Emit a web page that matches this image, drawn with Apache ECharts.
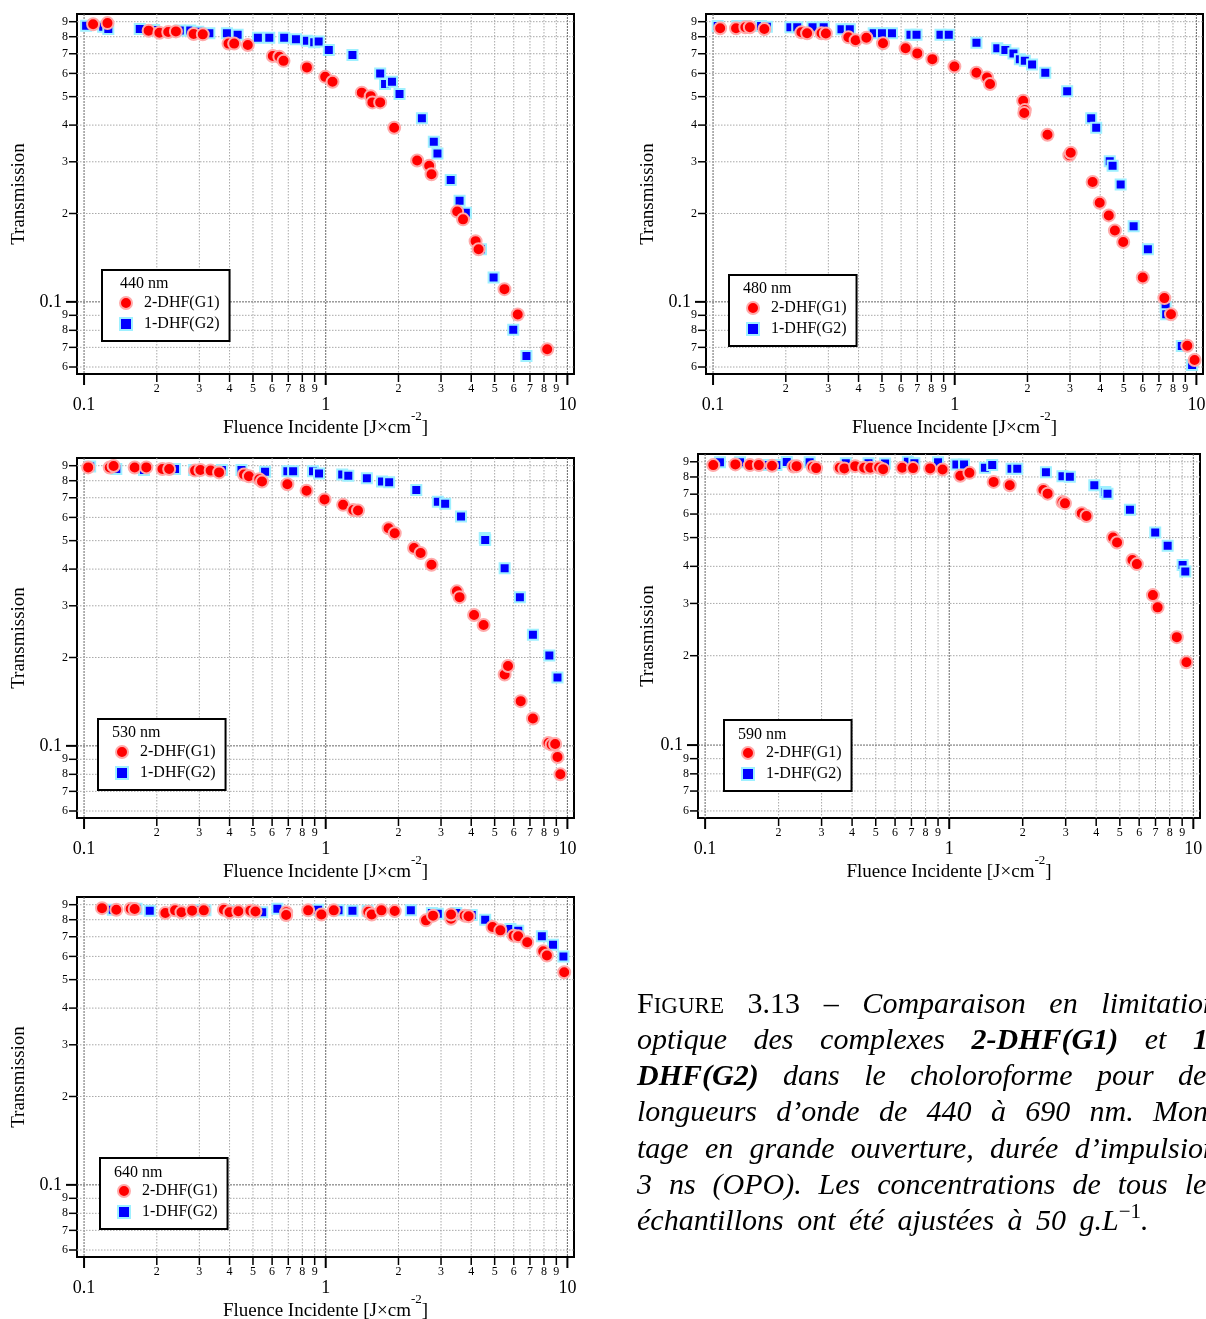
<!DOCTYPE html>
<html>
<head>
<meta charset="utf-8">
<script src="https://cdn.jsdelivr.net/npm/echarts@6.0.0/dist/echarts.min.js"></script>
<style>html,body{margin:0;padding:0;background:#fff;}#chart{width:1206px;height:1319px;}</style>
</head>
<body>
<div id="chart"></div>
<script>
// ---------------- DATA ----------------
const SERIES_NAMES = ['2-DHF(G1)', '1-DHF(G2)'];
const WAVELENGTHS = ['440 nm', '480 nm', '530 nm', '590 nm', '640 nm'];

const g1_440_x = [0.109,0.125,0.185,0.205,0.223,0.240,0.284,0.31,0.396,0.418,0.476,0.604,0.643,0.669,0.836,0.995,1.067,1.41,1.535,1.56,1.68,1.92,2.39,2.68,2.74,3.5,3.7,4.17,4.29,5.49,6.23,8.25];
const g1_440_y = [0.882,0.89,0.839,0.825,0.83,0.834,0.817,0.815,0.758,0.758,0.75,0.688,0.684,0.662,0.629,0.584,0.562,0.516,0.502,0.478,0.478,0.392,0.303,0.291,0.272,0.203,0.191,0.161,0.151,0.1105,0.0906,0.069];
const g2_440_x = [0.102,0.120,0.126,0.170,0.195,0.249,0.275,0.297,0.33,0.39,0.432,0.524,0.584,0.673,0.753,0.836,0.896,0.935,1.03,1.29,1.68,1.76,1.88,2.02,2.5,2.8,2.9,3.29,3.58,3.8,4.39,4.95,5.97,6.77];
const g2_440_y = [0.872,0.865,0.85,0.85,0.843,0.84,0.84,0.832,0.822,0.822,0.812,0.794,0.794,0.794,0.785,0.775,0.766,0.77,0.721,0.693,0.6,0.552,0.562,0.51,0.422,0.351,0.32,0.26,0.221,0.201,0.151,0.121,0.0804,0.0654];

const g1_480_x = [0.107,0.1245,0.136,0.142,0.163,0.232,0.245,0.281,0.293,0.363,0.389,0.431,0.505,0.626,0.70,0.808,0.997,1.23,1.36,1.40,1.92,1.95,1.94,2.42,2.98,3.02,3.72,3.98,4.34,4.6,4.98,6.0,7.37,7.85,9.17,9.83];
const g1_480_y = [0.855,0.855,0.862,0.862,0.85,0.829,0.822,0.822,0.82,0.797,0.778,0.794,0.76,0.731,0.702,0.671,0.633,0.603,0.581,0.552,0.484,0.45,0.44,0.371,0.316,0.322,0.256,0.2175,0.197,0.175,0.16,0.121,0.103,0.0908,0.0709,0.0634];
const g2_480_x = [0.1045,0.126,0.136,0.158,0.167,0.209,0.223,0.258,0.287,0.34,0.368,0.462,0.5,0.55,0.656,0.695,0.873,0.945,1.23,1.5,1.62,1.75,1.86,1.95,2.09,2.37,2.92,3.67,3.85,4.38,4.5,4.86,5.5,6.3,7.46,7.5,8.7,9.6];
const g2_480_y = [0.87,0.87,0.87,0.87,0.865,0.862,0.862,0.862,0.862,0.848,0.848,0.822,0.822,0.822,0.812,0.812,0.812,0.812,0.763,0.731,0.721,0.702,0.67,0.663,0.643,0.603,0.522,0.422,0.392,0.301,0.291,0.251,0.181,0.151,0.096,0.0908,0.0707,0.0609];

const g1_530_x = [0.104,0.1277,0.1325,0.162,0.181,0.211,0.225,0.288,0.303,0.334,0.362,0.459,0.481,0.531,0.545,0.694,0.833,0.989,1.18,1.30,1.36,1.82,1.93,2.32,2.47,2.74,3.49,3.58,4.11,4.5,5.5,5.68,6.41,7.2,8.35,8.6,8.9,9.1,9.35];
const g1_530_y = [0.888,0.887,0.898,0.887,0.888,0.877,0.877,0.866,0.87,0.866,0.854,0.84,0.829,0.809,0.795,0.778,0.74,0.691,0.662,0.636,0.633,0.551,0.53,0.472,0.454,0.414,0.336,0.321,0.279,0.258,0.175,0.187,0.142,0.124,0.1023,0.101,0.1015,0.0916,0.080];
const g2_530_x = [0.106,0.136,0.177,0.238,0.285,0.372,0.448,0.561,0.694,0.733,0.886,0.938,1.17,1.24,1.48,1.71,1.83,2.37,2.91,3.12,3.63,4.55,4.57,5.5,6.36,7.2,8.42,9.1];
const g2_530_y = [0.895,0.877,0.87,0.877,0.87,0.87,0.87,0.858,0.862,0.862,0.862,0.846,0.84,0.831,0.815,0.795,0.79,0.744,0.679,0.668,0.604,0.51,0.503,0.403,0.321,0.239,0.203,0.171];

const g1_590_x = [0.108,0.133,0.1525,0.166,0.188,0.23,0.237,0.276,0.285,0.356,0.372,0.412,0.448,0.475,0.516,0.536,0.642,0.711,0.835,0.939,1.11,1.21,1.52,1.77,2.43,2.53,2.91,2.98,3.49,3.65,4.69,4.87,5.63,5.87,6.83,7.14,8.56,9.37];
const g1_590_y = [0.877,0.882,0.877,0.877,0.873,0.868,0.87,0.864,0.857,0.859,0.855,0.87,0.859,0.859,0.861,0.85,0.859,0.857,0.855,0.848,0.808,0.826,0.77,0.75,0.723,0.703,0.659,0.652,0.604,0.591,0.5,0.481,0.42,0.407,0.32,0.291,0.231,0.19];
const g2_590_x = [0.115,0.139,0.182,0.196,0.216,0.268,0.377,0.467,0.546,0.677,0.72,0.90,1.07,1.15,1.40,1.5,1.8,1.9,2.49,2.91,3.12,3.93,4.36,4.45,5.5,6.98,7.85,9.04,9.27];
const g2_590_y = [0.897,0.897,0.877,0.877,0.898,0.897,0.89,0.89,0.888,0.9,0.89,0.897,0.882,0.882,0.859,0.877,0.852,0.852,0.83,0.805,0.802,0.75,0.712,0.703,0.62,0.52,0.469,0.404,0.384];

const g1_640_x = [0.1187,0.136,0.156,0.162,0.217,0.238,0.253,0.28,0.313,0.379,0.4,0.435,0.488,0.512,0.686,0.686,0.846,0.96,1.08,1.5,1.55,1.7,1.93,2.6,2.78,3.3,3.3,3.76,3.9,4.9,5.28,5.99,6.26,6.82,7.94,8.23,9.7];
const g1_640_y = [0.876,0.865,0.872,0.87,0.843,0.861,0.848,0.859,0.861,0.865,0.848,0.855,0.859,0.853,0.848,0.83,0.861,0.833,0.861,0.851,0.833,0.861,0.856,0.796,0.826,0.806,0.833,0.826,0.822,0.756,0.736,0.706,0.703,0.67,0.625,0.604,0.53];
const g2_640_x = [0.1315,0.165,0.187,0.296,0.318,0.416,0.546,0.631,0.93,1.13,1.29,1.49,2.25,2.75,2.91,3.47,4.02,4.57,5.81,6.26,7.84,8.72,9.63];
const g2_640_y = [0.865,0.872,0.859,0.861,0.861,0.855,0.848,0.872,0.865,0.861,0.859,0.859,0.861,0.843,0.839,0.843,0.83,0.80,0.744,0.734,0.703,0.658,0.60];

// Axis ranges and ticks
const X_MIN = 0.0935, X_MAX = 10.65;
const Y_MIN = 0.0568, Y_MAX = 0.956;
const X_TICKS = [0.1,0.2,0.3,0.4,0.5,0.6,0.7,0.8,0.9,1,2,3,4,5,6,7,8,9,10];
const X_TICK_LABELS = ['0.1','2','3','4','5','6','7','8','9','1','2','3','4','5','6','7','8','9','10'];
const X_TICK_MAJOR = [1,0,0,0,0,0,0,0,0,1,0,0,0,0,0,0,0,0,1];
const Y_TICKS = [0.06,0.07,0.08,0.09,0.1,0.2,0.3,0.4,0.5,0.6,0.7,0.8,0.9];
const Y_TICK_LABELS = ['6','7','8','9','0.1','2','3','4','5','6','7','8','9'];
const Y_TICK_MAJOR = [0,0,0,0,1,0,0,0,0,0,0,0,0];

const X_NAME = 'Fluence Incidente [J×cm';
const X_NAME_SUP = '-2';
const Y_NAME = 'Transmission';

// caption (text runs: r roman, sc small caps, i italic, bi bold italic, sup superscript)
const CAPTION_LINES = [
  [[['F','r'],['IGURE','sc']], [['3.13','r']], [['–','r']], [['Comparaison','i']], [['en','i']], [['limitation','i']]],
  [[['optique','i']], [['des','i']], [['complexes','i']], [['2-DHF(G1)','bi']], [['et','i']], [['1-','bi']]],
  [[['DHF(G2)','bi']], [['dans','i']], [['le','i']], [['choloroforme','i']], [['pour','i']], [['des','i']]],
  [[['longueurs','i']], [['d’onde','i']], [['de','i']], [['440','i']], [['à','i']], [['690','i']], [['nm.','i']], [['Mon-','i']]],
  [[['tage','i']], [['en','i']], [['grande','i']], [['ouverture,','i']], [['durée','i']], [['d’impulsion','i']]],
  [[['3','i']], [['ns','i']], [['(OPO).','i']], [['Les','i']], [['concentrations','i']], [['de','i']], [['tous','i']], [['les','i']]],
  [[['échantillons','i']], [['ont','i']], [['été','i']], [['ajustées','i']], [['à','i']], [['50','i']], [['g.L','i'],['−1','sup'],['.','i']]]
];

// ---------------- LAYOUT ----------------
const FONT = '"Liberation Serif", "Times New Roman", serif';
const PLOTS = [
  {grid:{left:77, top:14, width:497, height:360}, yGap:48, legend:[102,270], title:[120,276], g1:[g1_440_x,g1_440_y], g2:[g2_440_x,g2_440_y]},
  {grid:{left:706, top:14, width:497, height:360}, yGap:48, legend:[729,275], title:[743,281], g1:[g1_480_x,g1_480_y], g2:[g2_480_x,g2_480_y]},
  {grid:{left:77, top:458, width:497, height:360}, yGap:48, legend:[98,719], title:[112,725], g1:[g1_530_x,g1_530_y], g2:[g2_530_x,g2_530_y]},
  {grid:{left:698, top:454, width:502, height:364}, yGap:40, legend:[724,720], title:[738,727], g1:[g1_590_x,g1_590_y], g2:[g2_590_x,g2_590_y]},
  {grid:{left:77, top:897, width:497, height:360}, yGap:48, legend:[100,1158], title:[114,1165], g1:[g1_640_x,g1_640_y], g2:[g2_640_x,g2_640_y]}
];

function zip(xs, ys){ return xs.map((x,i)=>[x, ys[i]]); }

function txtStyle(text, font, align, valign){
  return {text:text, font:font, fill:'#000', textAlign:align, textVerticalAlign:valign, align:align, verticalAlign:valign};
}

function renderX(params, api){
  const v = api.value(0), k = api.value(2);
  const bottom = api.coord([v, Y_MIN]);
  const top = api.coord([v, Y_MAX]);
  const major = X_TICK_MAJOR[k] === 1;
  const len = major ? 11 : 8;
  return {type:'group', children:[
    {type:'line', silent:true, shape:{x1:bottom[0], y1:top[1], x2:bottom[0], y2:bottom[1]},
      style:{stroke: major ? '#666' : '#a8a8a8', lineWidth:1, lineDash: major ? [2,1] : [1.5,1.5]}},
    {type:'line', silent:true, shape:{x1:bottom[0], y1:bottom[1], x2:bottom[0], y2:bottom[1]+len},
      style:{stroke:'#000', lineWidth: major ? 2 : 1.5}},
    {type:'text', silent:true, x:bottom[0], y:bottom[1] + (major ? 31 : 15),
      style: txtStyle(X_TICK_LABELS[k], (major ? '18px ' : '12px ') + FONT, 'center', 'middle')}
  ]};
}
function renderY(params, api){
  const v = api.value(1), k = api.value(2);
  const left = api.coord([X_MIN, v]);
  const right = api.coord([X_MAX, v]);
  const major = Y_TICK_MAJOR[k] === 1;
  const len = major ? 11 : 8;
  return {type:'group', children:[
    {type:'line', silent:true, shape:{x1:left[0], y1:left[1], x2:right[0], y2:left[1]},
      style:{stroke: major ? '#666' : '#a8a8a8', lineWidth:1, lineDash: major ? [2,1] : [1.5,1.5]}},
    {type:'line', silent:true, shape:{x1:left[0], y1:left[1], x2:left[0]-len, y2:left[1]},
      style:{stroke:'#000', lineWidth: major ? 2 : 1.5}},
    {type:'text', silent:true, x:left[0] - (major ? 15 : 9), y:left[1],
      style: txtStyle(Y_TICK_LABELS[k], (major ? '18px ' : '12px ') + FONT, 'right', 'middle')}
  ]};
}

const option = {
  animation:false,
  backgroundColor:'#fff',
  grid:[], xAxis:[], yAxis:[], series:[], legend:[], title:[], graphic:[]
};

PLOTS.forEach((p, i) => {
  option.grid.push(Object.assign({show:true, borderColor:'#000', borderWidth:2, backgroundColor:'transparent', containLabel:false, outerBoundsMode:'none'}, p.grid));
  option.xAxis.push({
    type:'log', logBase:10, gridIndex:i, min:X_MIN, max:X_MAX,
    axisLine:{show:false}, axisTick:{show:false}, axisLabel:{show:false}, splitLine:{show:false},
    name:'{n|' + X_NAME + '}{s|' + X_NAME_SUP + '}{n|]}', nameLocation:'middle', nameGap:36,
    nameTextStyle:{fontFamily:FONT, fontSize:19, color:'#000',
      rich:{n:{fontFamily:FONT, fontSize:19, lineHeight:19, verticalAlign:'bottom', color:'#000'},
            s:{fontFamily:FONT, fontSize:13, lineHeight:28, verticalAlign:'top', color:'#000'}}}
  });
  option.yAxis.push({
    type:'log', logBase:10, gridIndex:i, min:Y_MIN, max:Y_MAX,
    axisLine:{show:false}, axisTick:{show:false}, axisLabel:{show:false}, splitLine:{show:false},
    name:Y_NAME, nameLocation:'middle', nameGap:p.yGap,
    nameTextStyle:{fontFamily:FONT, fontSize:19, color:'#000'}
  });
  option.series.push({
    type:'custom', name:'xgrid'+i, xAxisIndex:i, yAxisIndex:i, silent:true, clip:false,
    encode:{x:0, y:1}, renderItem:renderX,
    data: X_TICKS.map((v,k)=>[v, Y_MIN, k])
  });
  option.series.push({
    type:'custom', name:'ygrid'+i, xAxisIndex:i, yAxisIndex:i, silent:true, clip:false,
    encode:{x:0, y:1}, renderItem:renderY,
    data: Y_TICKS.map((v,k)=>[X_MIN, v, k])
  });
  option.series.push({
    type:'scatter', name:SERIES_NAMES[1], xAxisIndex:i, yAxisIndex:i,
    symbol:'rect', symbolSize:10,
    itemStyle:{color:'#0000ff', borderColor:'#9ff0ff', borderWidth:2, opacity:1},
    data: zip(p.g2[0], p.g2[1])
  });
  option.series.push({
    type:'scatter', name:SERIES_NAMES[0], xAxisIndex:i, yAxisIndex:i,
    symbol:'circle', symbolSize:12,
    itemStyle:{color:'#ff0000', borderColor:'#ffaaaa', borderWidth:2, opacity:1},
    data: zip(p.g1[0], p.g1[1])
  });
  option.legend.push({
    left:p.legend[0], top:p.legend[1], orient:'vertical', data:SERIES_NAMES.slice(),
    itemWidth:12, itemHeight:12, itemGap:5, padding:[25,10,9,17], selectedMode:false,
    backgroundColor:'#fff', borderColor:'#000', borderWidth:2, borderRadius:0,
    textStyle:{fontFamily:FONT, fontSize:16, color:'#000', padding:[0,0,0,7]}
  });
  option.title.push({
    text:WAVELENGTHS[i], left:p.title[0], top:p.title[1], padding:0,
    textStyle:{fontFamily:FONT, fontSize:16, fontWeight:'normal', color:'#000'}
  });
});

// ---------------- CAPTION ----------------
const CAP_X0 = 637, CAP_X1 = 1218, CAP_Y0 = 1005, CAP_DY = 36.2, CAP_SIZE = 30;
const CAP_FAMILY = '"Liberation Serif", serif';
const capFonts = {
  r: CAP_SIZE + 'px ' + CAP_FAMILY,
  sc: Math.round(CAP_SIZE*0.78) + 'px ' + CAP_FAMILY,
  i: 'italic ' + CAP_SIZE + 'px ' + CAP_FAMILY,
  bi: 'italic bold ' + CAP_SIZE + 'px ' + CAP_FAMILY,
  sup: Math.round(CAP_SIZE*0.7) + 'px ' + CAP_FAMILY
};
const mctx = document.createElement('canvas').getContext('2d');
function mw(text, st){ mctx.font = capFonts[st]; return mctx.measureText(text).width; }
const capElems = [];
CAPTION_LINES.forEach((words, li) => {
  const widths = words.map(w => w.reduce((s, r) => s + mw(r[0], r[1]), 0));
  const total = widths.reduce((a,b)=>a+b, 0);
  const last = li === CAPTION_LINES.length - 1;
  const gap = last ? mw(' ', 'i') * 1.8 : (CAP_X1 - CAP_X0 - total) / (words.length - 1);
  let x = CAP_X0;
  const y = CAP_Y0 + li * CAP_DY;
  words.forEach((w, wi) => {
    let rx = x;
    w.forEach(r => {
      const isSup = r[1] === 'sup';
      capElems.push({type:'text', silent:true, x:rx, y: y + (isSup ? -10 : (r[1]==='sc' ? 2 : 0)),
        style: txtStyle(r[0], capFonts[r[1]], 'left', 'middle')});
      rx += mw(r[0], r[1]);
    });
    x += widths[wi] + gap;
  });
});
option.graphic = capElems;

const chart = echarts.init(document.getElementById('chart'), null, {renderer:'canvas'});
chart.setOption(option);
</script>
</body>
</html>
